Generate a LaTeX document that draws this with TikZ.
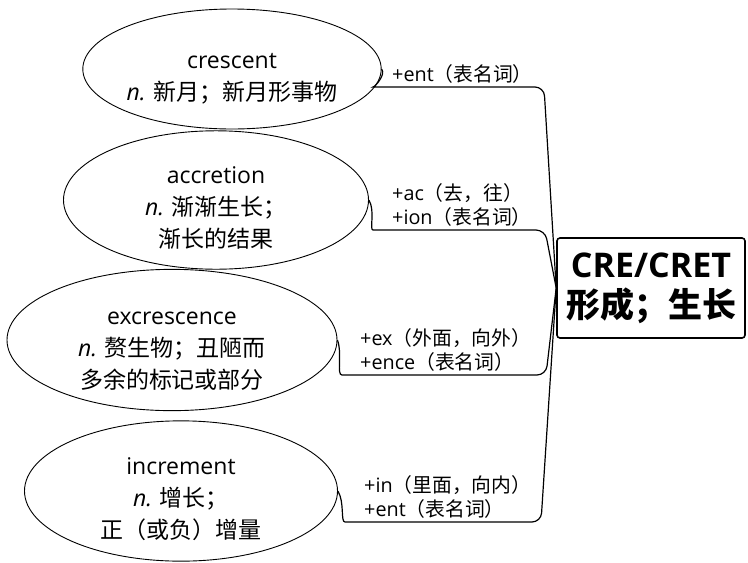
\documentclass[tikz,border=0pt]{standalone}
\usepackage{fontspec}
\setmainfont{Open Sans}
\newfontfamily\cjk{Noto Sans CJK SC}
\usetikzlibrary{shapes.geometric}
\newcommand\drop[1]{\rule{0pt}{#1}}

\tikzset{
  word/.style={ellipse, draw, line width=0.9pt, inner sep=0pt, align=center,
    font=\fontsize{23}{32}\selectfont},
  affix/.style={anchor=south west, align=left, inner sep=1pt,
    font=\fontsize{19.8}{24.5}\selectfont},
  branch/.style={line width=1.2pt, rounded corners=9pt},
}

\begin{document}
\begin{tikzpicture}[x=1pt,y=-1pt]
  \useasboundingbox (0,0) rectangle (748,563);
  % root box
  \node[draw, line width=1.6pt, rounded corners=3pt, minimum width=188pt,
    minimum height=100pt, align=center,
    font=\fontsize{34}{40}\selectfont\bfseries] (root) at (651,288)
    {CRE/CRET\\{\cjk 形成；生长}};
  % words
  \node[word, minimum width=274pt, minimum height=120pt] (crescent) at (232,69)
    {\drop{35pt}crescent\\\textit{n.} {\cjk 新月；新月形事物}};
  \node[word, minimum width=305pt, minimum height=130pt] (accretion) at (216,200)
    {\drop{32pt}accretion\\\textit{n.} {\cjk 渐渐生长；}\\{\cjk 渐长的结果}};
  \node[word, minimum width=330pt, minimum height=135pt] (excrescence) at (172,340)
    {\drop{34pt}excrescence\\\textit{n.} {\cjk 赘生物；丑陋而}\\{\cjk 多余的标记或部分}};
  \node[word, minimum width=313pt, minimum height=137pt] (increment) at (181,491)
    {\drop{33pt}increment\\\textit{n.} {\cjk 增长；}\\{\cjk 正（或负）增量}};
  % bends
  \coordinate (b1) at (382,87);  \coordinate (k1) at (544,87);
  \coordinate (b2) at (382,230); \coordinate (k2) at (545,230);
  \coordinate (b3) at (351,375); \coordinate (k3) at (546,375);
  \coordinate (b4) at (354,522); \coordinate (k4) at (541,522);
  % branches
  \draw[branch] (crescent.east) to[out=-50,in=180] (b1) -- (k1) -- (root.west);
  \draw[branch] (accretion.east) to[out=-60,in=180] (b2) -- (k2) -- (root.west);
  \draw[branch] (excrescence.east) to[out=-70,in=180] (b3) -- (k3) -- (root.west);
  \draw[branch] (increment.east) to[out=-60,in=180] (b4) -- (k4) -- (root.west);
  % affixes
  \node[affix] (a1) at (391,85) {+ent{\cjk （表名词）}};
  \node[affix] (a2) at (391,228) {+ac{\cjk （去，往）}\\+ion{\cjk （表名词）}};
  \node[affix] (a3) at (359,373) {+ex{\cjk （外面，向外）}\\+ence{\cjk （表名词）}};
  \node[affix] (a4) at (363,520) {+in{\cjk （里面，向内）}\\+ent{\cjk （表名词）}};
\end{tikzpicture}
\end{document}
